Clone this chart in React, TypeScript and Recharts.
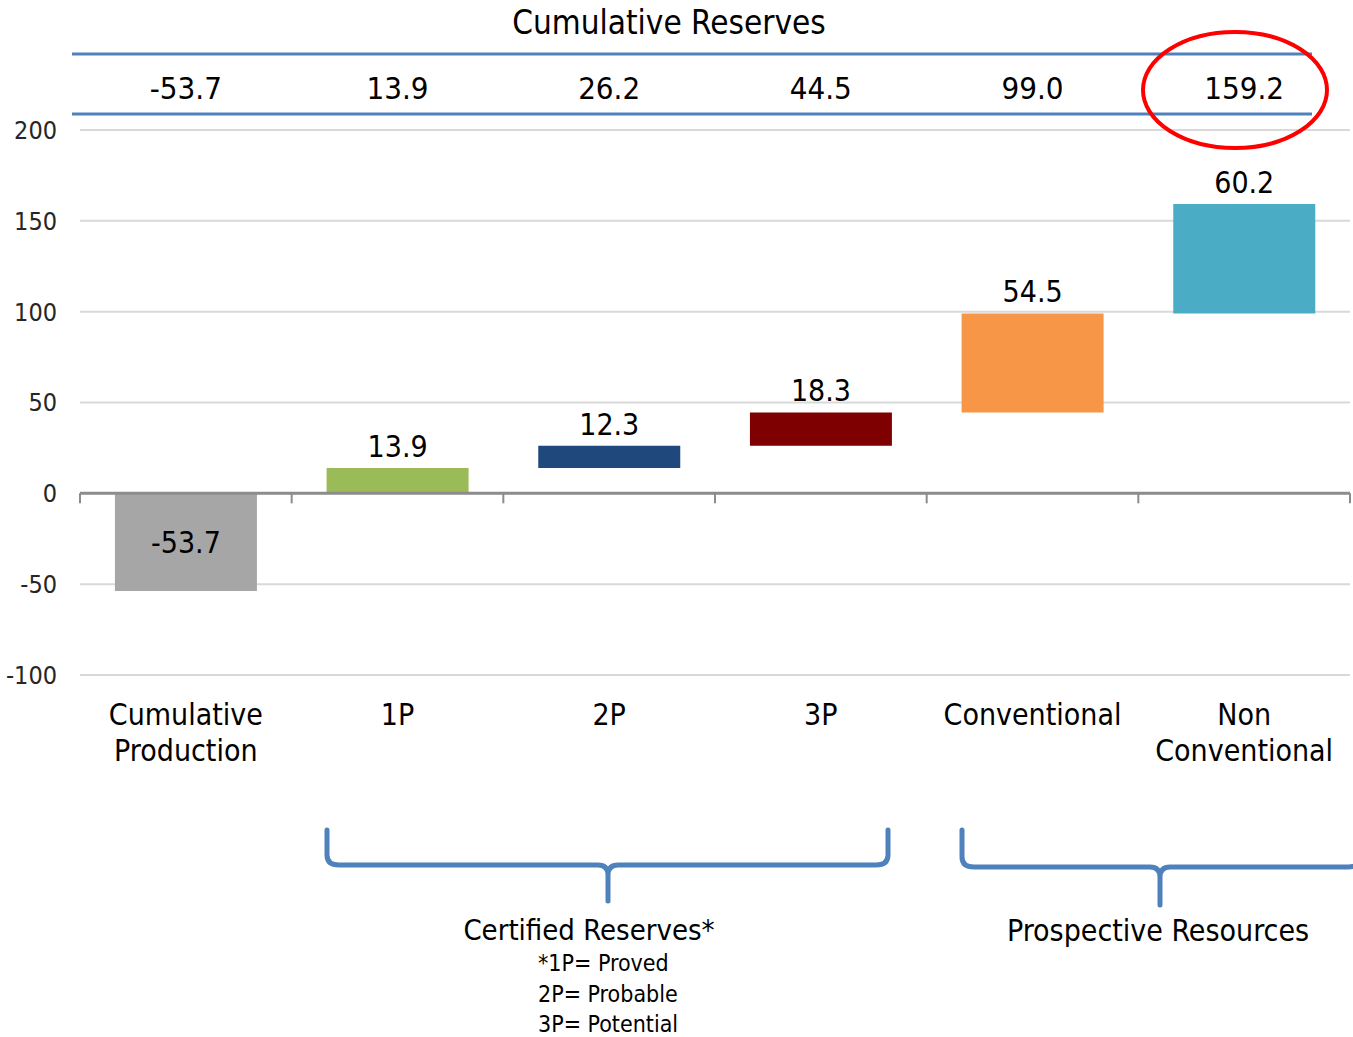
import React from 'react';
import {BarChart, Bar, XAxis, YAxis, CartesianGrid, ReferenceLine, LabelList, Cell} from 'recharts';

const FONT = "'DejaVu Sans Condensed', 'DejaVu Sans', sans-serif";
const TXT = {fontFamily: FONT, fontStretch: 'condensed'} as React.CSSProperties;

const categories = ['Cumulative Production', '1P', '2P', '3P', 'Conventional', 'Non Conventional'];
const bases = [0, 0, 13.9, 26.2, 44.5, 99.0];
const increments = [-53.7, 13.9, 12.3, 18.3, 54.5, 60.2];
const cumulative = [-53.7, 13.9, 26.2, 44.5, 99.0, 159.2];
const colors = ['#a6a6a6', '#9bbb59', '#1f497d', '#7f0000', '#f79646', '#4bacc6'];
const yTicks = [-100, -50, 0, 50, 100, 150, 200];

const data = categories.map((name, i) => ({
    name,
    range: [bases[i], bases[i] + increments[i]],
}));

const BLUE = '#4f81bd';

const CategoryTick = (props: any) => {
    const {x, y, payload} = props;
    const words: string[] = String(payload.value).split(' ');
    return (
        <text x={x} y={y} textAnchor="middle" style={TXT} fontSize={30} fill="#000">
            {words.map((w, i) => (
                <tspan key={i} x={x} dy={i === 0 ? 44 : 36}>{w}</tspan>
            ))}
        </text>
    );
};

const ValueLabel = (props: any) => {
    const {x, y, width, height, index} = props;
    const v = increments[index];
    const top = Math.min(y, y + height);
    const cx = x + width / 2;
    if (v < 0) {
        return (
            <text x={cx} y={y + height / 2} textAnchor="middle" dominantBaseline="central"
                  style={TXT} fontSize={30} fill="#000">{v.toFixed(1)}</text>
        );
    }
    return (
        <text x={cx} y={top - 11} textAnchor="middle" style={TXT} fontSize={30} fill="#000">
            {v.toFixed(1)}
        </text>
    );
};

const Brace = ({x1, x2, xm, yTop, yMid, yTip}: { x1: number, x2: number, xm: number, yTop: number, yMid: number, yTip: number }) => {
    const r = 10;
    const d = `M ${x1} ${yTop} L ${x1} ${yMid - r} Q ${x1} ${yMid} ${x1 + r + 2} ${yMid}` +
        ` L ${xm - r} ${yMid} Q ${xm} ${yMid} ${xm} ${yMid + r} L ${xm} ${yTip}` +
        ` M ${xm} ${yMid + r} Q ${xm} ${yMid} ${xm + r} ${yMid} L ${x2 - r - 2} ${yMid} Q ${x2} ${yMid} ${x2} ${yMid - r} L ${x2} ${yTop}`;
    return <path d={d} fill="none" stroke={BLUE} strokeWidth={5} strokeLinecap="round"/>;
};

export default function App() {
    return (
        <div style={{position: 'absolute', left: 0, top: 0, width: 1353, height: 1037, background: '#fff'}}>
            <BarChart width={1353} height={1037} data={data} barCategoryGap="16.5%"
                      margin={{top: 70, right: 3, left: 0, bottom: 262}}>
                <CartesianGrid vertical={false} stroke="#d9d9d9" strokeWidth={2}/>
                <YAxis domain={[-100, 200]} ticks={yTicks} width={80} axisLine={false} tickLine={false}
                       tickSize={0} tickMargin={23} interval={0}
                       tick={{style: TXT, fontSize: 25, fill: '#262626'}}/>
                <XAxis dataKey="name" height={100} axisLine={false} tickLine={false} tickSize={0}
                       tickMargin={6} interval={0} tick={<CategoryTick/>}/>
                <XAxis xAxisId="top" dataKey="name" orientation="top" height={60} axisLine={false}
                       tickLine={false} tickSize={0} tickMargin={31} interval={0}
                       tickFormatter={(_v: any, i: number) => cumulative[i].toFixed(1)}
                       tick={{style: TXT, fontSize: 31, fill: '#000'}}/>
                <ReferenceLine y={0} stroke="#8c8c8c" strokeWidth={3}/>
                {categories.map((c) => (
                    <ReferenceLine key={c} position="start" stroke="#8c8c8c" strokeWidth={2}
                                   segment={[{x: c, y: 0}, {x: c, y: -5.5}]}/>
                ))}
                <ReferenceLine position="end" stroke="#8c8c8c" strokeWidth={2}
                               segment={[{x: categories[5], y: 0}, {x: categories[5], y: -5.5}]}/>
                <Bar dataKey="range" isAnimationActive={false}>
                    {data.map((_d, i) => (
                        <Cell key={`cell-${i}`} fill={colors[i]}/>
                    ))}
                    <LabelList dataKey="range" content={<ValueLabel/>}/>
                </Bar>
            </BarChart>
            <svg width={1353} height={1037} style={{position: 'absolute', left: 0, top: 0, pointerEvents: 'none'}}>
                <text x={669} y={34} textAnchor="middle" style={TXT} fontSize={33} fill="#000">
                    Cumulative Reserves
                </text>
                <line x1={72} x2={1312} y1={54} y2={54} stroke={BLUE} strokeWidth={3}/>
                <line x1={72} x2={1312} y1={114} y2={114} stroke={BLUE} strokeWidth={3}/>
                <ellipse cx={1235} cy={90} rx={92} ry={58} fill="none" stroke="#ff0000" strokeWidth={4}/>
                <Brace x1={327} x2={888} xm={608} yTop={830} yMid={865} yTip={901}/>
                <Brace x1={962} x2={1360} xm={1160} yTop={830} yMid={867} yTip={905}/>
                <text x={589} y={940} textAnchor="middle" style={TXT} fontSize={29} fill="#000">
                    Certified Reserves*
                </text>
                <text x={538} y={971} style={TXT} fontSize={23} fill="#000">*1P= Proved</text>
                <text x={538} y={1002} style={TXT} fontSize={23} fill="#000">2P= Probable</text>
                <text x={538} y={1032} style={TXT} fontSize={23} fill="#000">3P= Potential</text>
                <text x={1158} y={941} textAnchor="middle" style={TXT} fontSize={30} fill="#000">
                    Prospective Resources
                </text>
            </svg>
        </div>
    );
}
